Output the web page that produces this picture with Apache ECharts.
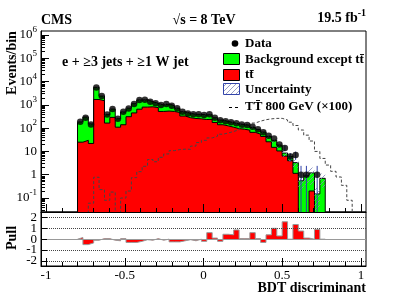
<!DOCTYPE html>
<html><head><meta charset="utf-8">
<script src="https://cdn.jsdelivr.net/npm/echarts@6/dist/echarts.min.js"></script>
<style>html,body{margin:0;padding:0;background:#fff}#c{width:407px;height:303px}</style>
</head><body><div id="c"></div>
<script>
// ---- binning (x positions of bins) ----
const binLow = -0.8;
const binWidth = 0.0342;

// ---- values (one per bin) ----
const dataCounts = [188,280,145,5600,2400,385,655,250,500,705,1100,1600,1650,1350,1160,980,1080,910,710,500,430,390,390,365,390,280,220,200,178,162,145,135,114,89,66,47,36,20,14,6,7,1,1,0,1,0];
const ttbar = [25,30,22,1700,1500,165,290,110,140,310,450,650,800,820,760,520,540,520,470,330,280,260,250,235,240,175,140,125,110,95,90,82,66,55,44,26,15,10.5,6.3,4,1.15,0,0,0.2,0,0];
const bkgExceptTT = [160,270,130,3950,880,215,370,143,355,410,670,970,855,540,395,465,540,405,250,175,152,133,140,135,138,103,83,69,63,56,54,52,42,33,24,18.5,15,8.2,2.2,2,2.15,0.55,0.9,1.0,0.15,0.7];
const signalX100 = [0,0,0.06,0.78,0.23,0.08,0.18,0,0.1,0.2,0.75,1.35,2.3,4.5,3.6,5.6,7.8,10.8,12,12.5,12.3,17,24,30,38,45,55,62,72,85,105,130,165,200,230,250,262,263,225,180,130,83,50,28,10,5,2.6,1.4,0.8,0.35,0.08];
const uncRel = [0.12,0.12,0.12,0.12,0.12,0.12,0.12,0.12,0.12,0.12,0.12,0.12,0.12,0.12,0.12,0.12,0.12,0.12,0.12,0.12,0.12,0.12,0.12,0.12,0.12,0.12,0.12,0.12,0.12,0.12,0.13,0.14,0.15,0.16,0.18,0.2,0.22,0.25,0.3,0.35,0.4,0.6,0.6,0.7,0.8,0.6];
const pulls = [0.15,-0.5,-0.35,-0.1,0.05,0.05,-0.1,-0.15,0.05,-0.3,-0.3,-0.2,-0.05,-0.1,0.05,-0.1,0,-0.25,-0.25,-0.15,-0.05,-0.15,0,-0.2,0.6,0.1,-0.2,0.45,0.4,0.85,0.05,0.05,0.6,0.05,-0.3,0.4,1.0,0.3,1.6,0,1.35,0.75,0.1,0,0.9,0];
// visible data error bars
const errBins = [38,39,40,41,42,44];
const errLo = [10.3,3.6,4.4,0,0,0];
const errHi = [18,8.5,9.8,2.4,2.4,2.4];

// ---- tick labels ----
const xMajorTicks = [-1,-0.5,0,0.5,1];
const xMinorTicks = [-1,-0.9,-0.8,-0.7,-0.6,-0.5,-0.4,-0.3,-0.2,-0.1,0,0.1,0.2,0.3,0.4,0.5,0.6,0.7,0.8,0.9,1];
const yMajorTicks = [0.1,1,10,100,1000,10000,100000,1000000];
const pullTicks = [-2,-1,0,1,2];
const pullLabelsEven = [-2,0,2];
const pullLabelsOdd = [-1,1];

const yMinorTicks = [];
for (let e = -2; e <= 6; e++) for (let m = 2; m <= 9; m++) { const v = m * Math.pow(10, e); if (v > 0.0252 && v < 1.47e6) yMinorTicks.push(v); }

const X_MIN = -1.032, X_MAX = 1.032;
const Y_MIN = Math.pow(10, -1.6), Y_MAX = Math.pow(10, 6.17);
const P_MIN = -2.47, P_MAX = 2.5;
const FLOOR = 1e-4;
const FONT = '"Liberation Serif", "Times New Roman", serif';

function edge(i) { return binLow + i * binWidth; }
function stepData(vals, floor, allowNeg) {
  const pts = [[edge(0), floor]];
  vals.forEach((v, i) => pts.push([edge(i), (allowNeg || v > 0) ? v : floor]));
  pts.push([edge(vals.length), floor]);
  return pts;
}
const stackTop = ttbar.map((t, i) => t + bkgExceptTT[i]);

// hatch pattern
const hc = document.createElement('canvas'); hc.width = 5; hc.height = 5;
const hg = hc.getContext('2d'); hg.strokeStyle = '#7d86b8'; hg.lineWidth = 0.8;
hg.beginPath(); hg.moveTo(0,5); hg.lineTo(5,0); hg.moveTo(-2.5,2.5); hg.lineTo(2.5,-2.5); hg.moveTo(2.5,7.5); hg.lineTo(7.5,2.5); hg.stroke();
const hatch = { image: hc, repeat: 'repeat' };

const uncData = [];
stackTop.forEach((t, i) => { if (t > 0) uncData.push([edge(i), edge(i+1), t * (1 - uncRel[i]), t * (1 + uncRel[i])]); });
const pointData = [];
dataCounts.forEach((c, i) => { if (c > 0) pointData.push([edge(i) + binWidth/2, c]); });
const errData = errBins.map((k, j) => [edge(k) + binWidth/2, errLo[j] > 0 ? errLo[j] : FLOOR, errHi[j]]);

const supRich = { b: { fontSize: 13, fontFamily: FONT, color: '#000' }, sup: { fontSize: 9, fontFamily: FONT, color: '#000', padding: [0,0,10,0] } };
const pullLabelStyle = { show: true, interval: 0, showMinLabel: true, showMaxLabel: true, hideOverlap: false, margin: 4, fontSize: 13, fontFamily: FONT, color: '#000' };

const chart = echarts.init(document.getElementById('c'), null, { renderer: 'canvas', width: 407, height: 303 });
const option = {
  animation: false,
  backgroundColor: '#fff',
  grid: [
    { left: 41, top: 31, width: 325, height: 181, show: true, borderColor: '#000', borderWidth: 1, outerBoundsMode: 'none', containLabel: false },
    { left: 41, top: 212, width: 325, height: 54, show: true, borderColor: '#000', borderWidth: 1, outerBoundsMode: 'none', containLabel: false }
  ],
  xAxis: [
    { gridIndex: 0, type: 'value', min: X_MIN, max: X_MAX, z: 10,
      axisLine: { show: true, onZero: false, lineStyle: { color: '#000', width: 1 } },
      axisTick: { show: true, inside: true, length: 8, customValues: xMajorTicks, lineStyle: { color: '#000' } },
      axisLabel: { show: false }, splitLine: { show: false } },
    { gridIndex: 0, type: 'value', min: X_MIN, max: X_MAX, position: 'bottom', z: 10,
      axisLine: { show: false, onZero: false },
      axisTick: { show: true, inside: true, length: 4, customValues: xMinorTicks, lineStyle: { color: '#000' } },
      axisLabel: { show: false }, splitLine: { show: false } },
    { gridIndex: 1, type: 'value', min: X_MIN, max: X_MAX, z: 10,
      axisLine: { show: true, onZero: false, lineStyle: { color: '#000', width: 1 } },
      axisTick: { show: true, inside: true, length: 8, customValues: xMajorTicks, lineStyle: { color: '#000' } },
      axisLabel: { show: true, customValues: xMajorTicks, interval: 0, showMinLabel: true, showMaxLabel: true, hideOverlap: false, margin: 3, fontSize: 13, fontFamily: FONT, color: '#000' },
      splitLine: { show: false } },
    { gridIndex: 1, type: 'value', min: X_MIN, max: X_MAX, position: 'bottom', z: 10,
      axisLine: { show: false, onZero: false },
      axisTick: { show: true, inside: true, length: 4, customValues: xMinorTicks, lineStyle: { color: '#000' } },
      axisLabel: { show: false }, splitLine: { show: false } }
  ],
  yAxis: [
    { gridIndex: 0, type: 'log', logBase: 10, min: Y_MIN, max: Y_MAX, z: 10,
      axisLine: { show: true, onZero: false, lineStyle: { color: '#000', width: 1 } },
      axisTick: { show: true, inside: true, length: 8, customValues: yMajorTicks, lineStyle: { color: '#000' } },
      axisLabel: { show: true, customValues: yMajorTicks, interval: 0, showMinLabel: true, showMaxLabel: true, margin: 4, rich: supRich,
        formatter: v => { const e = Math.round(Math.log10(v)); if (e === 0) return '{b|1}'; if (e === 1) return '{b|10}'; return '{b|10}{sup|' + e + '}'; } },
      splitLine: { show: false } },
    { gridIndex: 0, type: 'log', logBase: 10, min: Y_MIN, max: Y_MAX, position: 'left', z: 10,
      axisLine: { show: false, onZero: false },
      axisTick: { show: true, inside: true, length: 4, customValues: yMinorTicks, lineStyle: { color: '#000' } },
      axisLabel: { show: false }, splitLine: { show: false } },
    { gridIndex: 1, type: 'value', min: P_MIN, max: P_MAX, z: 10,
      axisLine: { show: true, onZero: false, lineStyle: { color: '#000', width: 1 } },
      axisTick: { show: true, inside: true, length: 6, customValues: pullTicks, lineStyle: { color: '#000' } },
      axisLabel: Object.assign({ customValues: pullLabelsEven }, pullLabelStyle),
      splitLine: { show: false } },
    { gridIndex: 1, type: 'value', min: P_MIN, max: P_MAX, position: 'left', z: 10,
      axisLine: { show: false, onZero: false },
      axisTick: { show: false },
      axisLabel: Object.assign({ customValues: pullLabelsOdd }, pullLabelStyle),
      splitLine: { show: false } }
  ],
  series: [
    { type: 'line', name: 'Background except tt', xAxisIndex: 0, yAxisIndex: 0, step: 'end', data: stepData(stackTop, FLOOR),
      symbol: 'none', showSymbol: false, silent: true, clip: true, z: 2,
      lineStyle: { color: '#000', width: 1 }, areaStyle: { color: '#00ff00', opacity: 1, origin: 'start' } },
    { type: 'line', name: 'tt', xAxisIndex: 0, yAxisIndex: 0, step: 'end', data: stepData(ttbar, FLOOR),
      symbol: 'none', showSymbol: false, silent: true, clip: true, z: 3,
      lineStyle: { color: '#000', width: 1 }, areaStyle: { color: '#ff0000', opacity: 1, origin: 'start' } },
    { type: 'line', name: 'TT 800', xAxisIndex: 0, yAxisIndex: 0, step: 'end', data: stepData(signalX100, FLOOR),
      symbol: 'none', showSymbol: false, silent: true, clip: true, z: 4,
      lineStyle: { color: '#444', width: 1, type: [3, 2] } },
    { type: 'custom', name: 'Uncertainty', xAxisIndex: 0, yAxisIndex: 0, data: uncData, clip: true, silent: true, z: 5,
      encode: { x: [0, 1], y: [2, 3] },
      renderItem: (params, api) => {
        const p1 = api.coord([api.value(0), api.value(3)]);
        const p2 = api.coord([api.value(1), api.value(2)]);
        return { type: 'rect', shape: { x: p1[0], y: p1[1], width: p2[0] - p1[0], height: p2[1] - p1[1] }, style: { fill: hatch } };
      } },
    { type: 'custom', name: 'errors', xAxisIndex: 0, yAxisIndex: 0, data: errData, clip: true, silent: true, z: 6,
      encode: { x: 0, y: [1, 2] },
      renderItem: (params, api) => {
        const a = api.coord([api.value(0), api.value(1)]);
        const b = api.coord([api.value(0), api.value(2)]);
        return { type: 'line', shape: { x1: a[0], y1: a[1], x2: b[0], y2: b[1] }, style: { stroke: '#3040a8', lineWidth: 1 } };
      } },
    { type: 'scatter', name: 'Data', xAxisIndex: 0, yAxisIndex: 0, data: pointData, symbol: 'circle', symbolSize: 6.5,
      itemStyle: { color: '#000' }, silent: true, z: 7 },
    { type: 'line', name: 'Pull', xAxisIndex: 2, yAxisIndex: 2, step: 'end', data: stepData(pulls, 0, true),
      symbol: 'none', showSymbol: false, silent: true, z: 3,
      lineStyle: { color: '#999', width: 1 }, areaStyle: { color: '#ff0000', opacity: 1, origin: 0 },
      markLine: { silent: true, symbol: ['none', 'none'], label: { show: false }, animation: false,
        data: [
          { yAxis: 2, lineStyle: { type: 'dotted', color: '#444', width: 1 } },
          { yAxis: 1, lineStyle: { type: 'dotted', color: '#444', width: 1 } },
          { yAxis: -1, lineStyle: { type: 'dotted', color: '#444', width: 1 } },
          { yAxis: -2, lineStyle: { type: 'dotted', color: '#444', width: 1 } },
          { yAxis: 0, lineStyle: { type: 'solid', color: '#999', width: 1 } }
        ] } }
  ],
  graphic: [
    { type: 'text', x: 41, y: 20, style: { text: 'CMS', font: 'bold 14px ' + FONT, fill: '#000', align: 'left', verticalAlign: 'middle' } },
    { type: 'text', x: 204, y: 20, style: { text: '\u221As = 8 TeV', font: 'bold 14px ' + FONT, fill: '#000', align: 'center', verticalAlign: 'middle' } },
    { type: 'text', x: 366, y: 18, style: { text: '{b|19.5 fb}{s|-1}', align: 'right', verticalAlign: 'middle',
        rich: { b: { font: 'bold 14px ' + FONT, fill: '#000' }, s: { font: 'bold 10px ' + FONT, fill: '#000', padding: [0,0,10,0] } } } },
    { type: 'text', x: 62, y: 62, style: { text: 'e + \u22653 jets + \u22651 W jet', font: 'bold 14px ' + FONT, fill: '#000', align: 'left', verticalAlign: 'middle' } },
    { type: 'text', x: 12, y: 63, rotation: Math.PI / 2, style: { text: 'Events/bin', font: 'bold 14px ' + FONT, fill: '#000', align: 'center', verticalAlign: 'middle' } },
    { type: 'text', x: 12, y: 238, rotation: Math.PI / 2, style: { text: 'Pull', font: 'bold 14px ' + FONT, fill: '#000', align: 'center', verticalAlign: 'middle' } },
    { type: 'text', x: 366, y: 288, style: { text: 'BDT discriminant', font: 'bold 14px ' + FONT, fill: '#000', align: 'right', verticalAlign: 'middle' } },
    // legend
    { type: 'circle', shape: { cx: 235, cy: 43.5, r: 3.3 }, style: { fill: '#000' } },
    { type: 'text', x: 245, y: 43.5, style: { text: 'Data', font: 'bold 13px ' + FONT, fill: '#000', align: 'left', verticalAlign: 'middle' } },
    { type: 'rect', shape: { x: 223.5, y: 53.5, width: 16, height: 11 }, style: { fill: '#00ff00', stroke: '#000', lineWidth: 1 } },
    { type: 'text', x: 245, y: 59.5, style: { text: 'Background except tt\u0304', font: 'bold 13px ' + FONT, fill: '#000', align: 'left', verticalAlign: 'middle' } },
    { type: 'rect', shape: { x: 223.5, y: 69.5, width: 16, height: 11 }, style: { fill: '#ff0000', stroke: '#000', lineWidth: 1 } },
    { type: 'text', x: 245, y: 75, style: { text: 'tt\u0304', font: 'bold 13px ' + FONT, fill: '#000', align: 'left', verticalAlign: 'middle' } },
    { type: 'rect', shape: { x: 223.5, y: 83.5, width: 16, height: 11 }, style: { fill: hatch, stroke: '#3344aa', lineWidth: 1 } },
    { type: 'text', x: 245, y: 89.5, style: { text: 'Uncertainty', font: 'bold 13px ' + FONT, fill: '#000', align: 'left', verticalAlign: 'middle' } },
    { type: 'line', shape: { x1: 229, y1: 107.5, x2: 241, y2: 107.5 }, style: { stroke: '#000', lineWidth: 1, lineDash: [3, 3] } },
    { type: 'text', x: 245, y: 107, style: { text: 'TT\u0304 800 GeV (\u00D7100)', font: 'bold 13px ' + FONT, fill: '#000', align: 'left', verticalAlign: 'middle' } }
  ]
};
chart.setOption(option);
</script>
</body></html>
